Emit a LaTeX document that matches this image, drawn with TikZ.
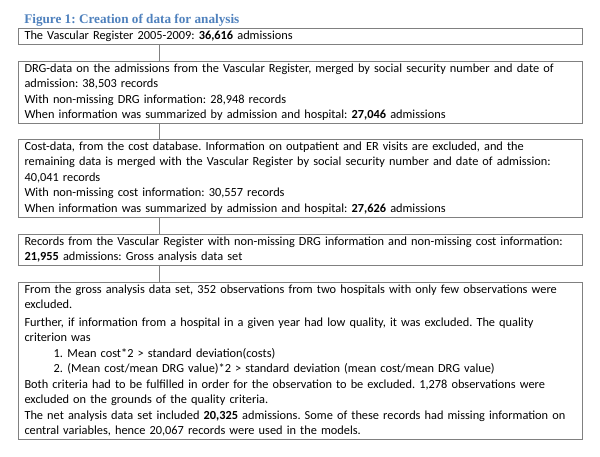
\documentclass[tikz,border=0pt]{standalone}
\usepackage{fontspec}
\setmainfont{Carlito}
\newfontfamily\titlefont{Liberation Serif}
\definecolor{headblue}{HTML}{4F81BD}
\definecolor{framegray}{HTML}{808080}
\newcommand{\listitem}[1]{\hspace*{21.75pt}\makebox[10.5pt][l]{#1}}
\frenchspacing
\hyphenpenalty=10000
\begin{document}
\begin{tikzpicture}[x=0.75pt, y=-0.75pt,
        stage/.style={draw=framegray, line width=0.75pt, anchor=north west,
                      align=left, text width=414pt, inner xsep=4.5pt, inner ysep=0pt,
                      font=\fontsize{9.25}{11.625}\selectfont,
                      execute at begin node=\strut, execute at end node=\strut},
        link/.style={draw=framegray, line width=0.75pt},
        heading/.style={anchor=base west, inner sep=0pt, text=headblue,
                        font=\titlefont\bfseries\fontsize{9.9}{12}\selectfont},
    ]
    \useasboundingbox (0,0) rectangle (600,457);
    % titel
    \node[heading] (title) at (24,23.5) {Figure 1: Creation of data for analysis};
    % stadier
    \node[stage] (register) at (18,28)
        {The Vascular Register 2005-2009: \textbf{36,616} admissions};
    \node[stage] (drg) at (18,61)
        {DRG-data on the admissions from the Vascular Register, merged by social security number and date of\\
         admission: 38,503 records\\
         With non-missing DRG information: 28,948 records\\
         When information was summarized by admission and hospital: \textbf{27,046} admissions};
    \node[stage] (cost) at (18,139)
        {Cost-data, from the cost database. Information on outpatient and ER visits are excluded, and the\\
         remaining data is merged with the Vascular Register by social security number and date of admission:\\
         40,041 records\\
         With non-missing cost information: 30,557 records\\
         When information was summarized by admission and hospital: \textbf{27,626} admissions};
    \node[stage] (gross) at (18,234)
        {Records from the Vascular Register with non-missing DRG information and non-missing cost information:\\
         \textbf{21,955} admissions: Gross analysis data set};
    \node[stage] (net) at (18,282)
        {From the gross analysis data set, 352 observations from two hospitals with only few observations were\\
         excluded.\\[1.5pt]
         Further, if information from a hospital in a given year had low quality, it was excluded. The quality\\
         criterion was\\
         \listitem{1.}Mean cost*2 > standard deviation(costs)\\
         \listitem{2.}(Mean cost/mean DRG value)*2 > standard deviation (mean cost/mean DRG value)\\
         Both criteria had to be fulfilled in order for the observation to be excluded. 1,278 observations were\\
         excluded on the grounds of the quality criteria.\\
         The net analysis data set included \textbf{20,325} admissions. Some of these records had missing information on\\
         central variables, hence 20,067 records were used in the models.};
    % forbindelser
    \coordinate (spine) at (159,0);
    \draw[link] (register.south -| spine) -- (drg.north -| spine);
    \draw[link] (drg.south -| spine) -- (cost.north -| spine);
    \draw[link] (cost.south -| spine) -- (gross.north -| spine);
    \draw[link] (gross.south -| spine) -- (net.north -| spine);
\end{tikzpicture}
\end{document}
